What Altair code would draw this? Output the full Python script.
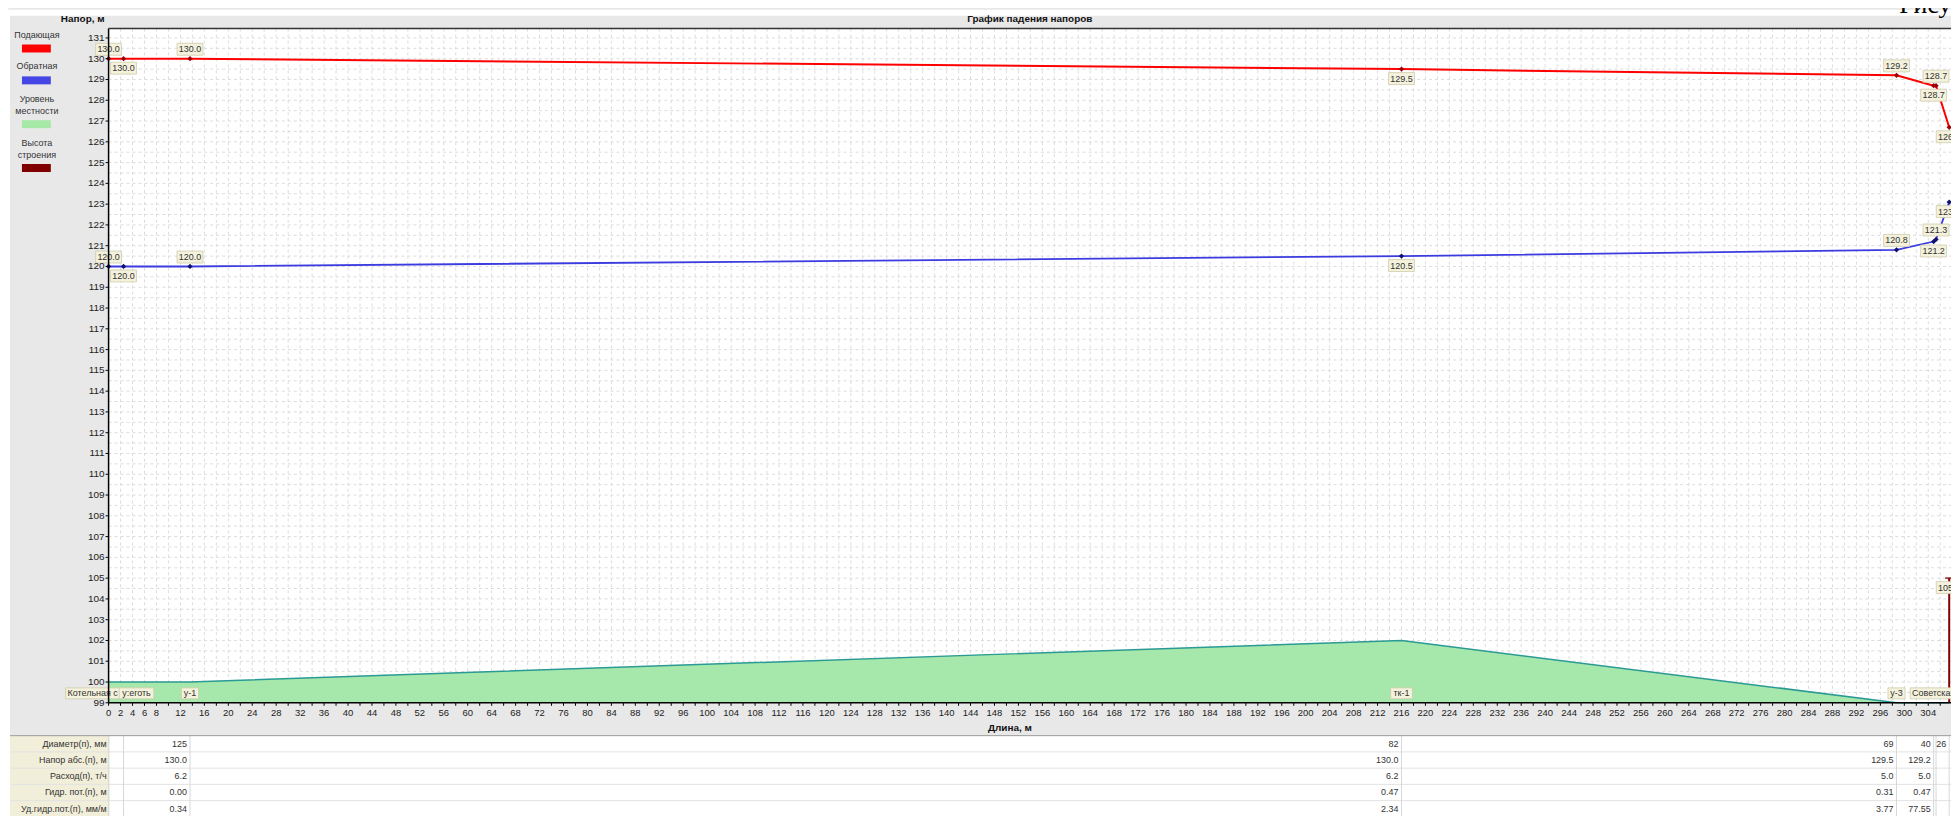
import altair as alt
import pandas as pd

# ---------------- data ----------------
node_x = [0.0, 2.5, 13.6, 216.0, 298.7, 304.9, 305.3, 307.5]
node_names = ["Котельная с", "у:еготь", "у-1", "тк-1", "у-3", "Советская", "", ""]
supply_head = [130.0, 130.0, 130.0, 129.5, 129.2, 128.7, 128.7, 126.7]
return_head = [120.0, 120.0, 120.0, 120.5, 120.8, 121.2, 121.3, 123.1]
terrain_level = [100.0, 100.0, 100.0, 102.0, 99.0, 99.0, 99.0, 99.0]
building_node = 7
building_height = 105.0

table_rows = ["Диаметр(п), мм", "Напор абс.(п), м", "Расход(п), т/ч",
              "Гидр. пот.(п), м", "Уд.гидр.пот.(п), мм/м"]
# one column per pipe segment (between consecutive nodes)
diameter = ["", "125", "82", "69", "40", "", "26"]
head_abs = ["", "130.0", "130.0", "129.5", "129.2", "", ""]
flow = ["", "6.2", "6.2", "5.0", "5.0", "", ""]
loss = ["", "0.00", "0.47", "0.31", "0.47", "", ""]
spec_loss = ["", "0.34", "2.34", "3.77", "77.55", "", ""]
table_values = [diameter, head_abs, flow, loss, spec_loss]

y_tick_labels = list(range(99, 132))
x_tick_labels = [0, 2, 4, 6, 8] + list(range(12, 305, 4))

legend_names = ["Подающая", "Обратная", "Уровень\nместности", "Высота\nстроения"]
legend_colors = ["#ff0000", "#4646e6", "#a6e8a6", "#800000"]

title_text = "График падения напоров"
y_title = "Напор, м"
x_title = "Длина, м"

# ---------------- layout / style ----------------
FONT = "Liberation Sans"
W, H = 1850, 677
X_DOM = [0, 307.8]
Y_DOM = [99, 131.45]
kx = W / (X_DOM[1] - X_DOM[0])
ky = H / (Y_DOM[1] - Y_DOM[0])
PAD_L, PAD_T, PAD_B = 101, 19, 112
BOTTOM = H + PAD_B

BG = "#e8e8e8"
BEIGE = "#f4f2dc"
BEIGE_BORDER = "#cfcbaa"
TEXT = "#333333"
GRID = "#dcdcdc"

xs = alt.Scale(domain=X_DOM, nice=False, zero=False)
ys = alt.Scale(domain=Y_DOM, nice=False, zero=False)

one = pd.DataFrame({"a": [0]})


def prect(x0, x1, y0, y1, color, **kw):
    return alt.Chart(one).mark_rect(color=color, **kw).encode(
        x=alt.value(x0), x2=alt.value(x1), y=alt.value(y0), y2=alt.value(y1))


def ptext(txt, x, y, size=9, bold=False, align="center", color=TEXT, font=FONT, **kw):
    return alt.Chart(one).mark_text(
        text=txt, font=font, fontSize=size, fontWeight="bold" if bold else "normal",
        align=align, baseline="middle", color=color, **kw).encode(
        x=alt.value(x), y=alt.value(y))


def xq(field):
    return alt.X(f"{field}:Q", scale=xs, axis=None)


def yq(field):
    return alt.Y(f"{field}:Q", scale=ys, axis=None, stack=None)


def ypx(field):
    return alt.Y(f"{field}:Q", scale=None, axis=None)


nodes = pd.DataFrame({"x": node_x, "supply": supply_head, "ret": return_head,
                      "terrain": terrain_level, "name": node_names})

# ---------------- hand-drawn axes & grid ----------------
x_grid = pd.DataFrame({"g": list(range(0, 308, 2))})
y_grid = pd.DataFrame({"g": [99 + 0.5 * i for i in range(0, 65)]})
grid_layers = [
    alt.Chart(x_grid).mark_rule(color=GRID, strokeWidth=1, strokeDash=[3, 3]).encode(
        x=xq("g"), y=alt.value(0), y2=alt.value(H)),
    alt.Chart(y_grid).mark_rule(color=GRID, strokeWidth=1, strokeDash=[3, 3]).encode(
        y=yq("g"), x=alt.value(0), x2=alt.value(W)),
]
xt = pd.DataFrame({"v": x_tick_labels, "t": [str(v) for v in x_tick_labels]})
yt = pd.DataFrame({"v": y_tick_labels, "t": [str(v) for v in y_tick_labels]})
axis_layers = [
    alt.Chart(x_grid).mark_rule(color="#000", strokeWidth=1).encode(
        x=xq("g"), y=alt.value(H), y2=alt.value(H + 3)),
    alt.Chart(yt).mark_rule(color="#000", strokeWidth=1).encode(
        y=yq("v"), x=alt.value(-3), x2=alt.value(0)),
    alt.Chart(xt).mark_text(font=FONT, fontSize=9.5, color="#222", baseline="middle").encode(
        x=xq("v"), y=alt.value(H + 10), text="t:N"),
    alt.Chart(yt).mark_text(font=FONT, fontSize=10, color="#222", baseline="middle",
                            align="right").encode(
        y=yq("v"), x=alt.value(-4), text="t:N"),
    alt.Chart(one).mark_rule(color="#000", strokeWidth=1.5).encode(
        x=alt.value(0), y=alt.value(0), y2=alt.value(H)),
    alt.Chart(one).mark_rule(color="#000", strokeWidth=1.5).encode(
        x=alt.value(0), x2=alt.value(W), y=alt.value(H)),
    alt.Chart(one).mark_rule(color="#333", strokeWidth=1.5).encode(
        x=alt.value(0), x2=alt.value(W), y=alt.value(0)),
]

# ---------------- plot layers ----------------
terrain_area = alt.Chart(nodes).mark_area(
    color="#a6e8ab", opacity=1, line={"color": "#2a9a94", "strokeWidth": 1.5}).encode(
    x=xq("x"), y=yq("terrain"), y2=alt.value(H))

supply_line = alt.Chart(nodes).mark_line(color="#ff0000", strokeWidth=2).encode(
    x=xq("x"), y=yq("supply"))
supply_pts = alt.Chart(nodes).mark_point(shape="diamond", filled=True, size=28,
                                         color="#a00000", opacity=1).encode(
    x=xq("x"), y=yq("supply"))
return_line = alt.Chart(nodes).mark_line(color="#3b3be0", strokeWidth=1.8).encode(
    x=xq("x"), y=yq("ret"))
return_pts = alt.Chart(nodes).mark_point(shape="diamond", filled=True, size=28,
                                         color="#101070", opacity=1).encode(
    x=xq("x"), y=yq("ret"))

bld = pd.DataFrame({"x": [node_x[building_node]],
                    "base": [terrain_level[building_node]],
                    "top": [building_height]})
building_rule = alt.Chart(bld).mark_rule(color="#800000", strokeWidth=2).encode(
    x=xq("x"), y=yq("base"), y2="top:Q")
building_cap = alt.Chart(bld).mark_tick(orient="horizontal", size=8, thickness=2,
                                        color="#800000").encode(x=xq("x"), y=yq("top"))

# value labels: alternating above / below the node
lab_rows = []
for series in (supply_head, return_head):
    for i, (x, v) in enumerate(zip(node_x, series)):
        side = 1 if i % 2 == 0 else -1
        lab_rows.append((x, v, side, f"{v:.1f}"))
lab_rows.append((node_x[building_node], building_height, -1, f"{building_height:.1f}"))
BW, BH, GAP = 26, 12, 3.5
labs = pd.DataFrame([{
    "x0": x - BW / 2 / kx, "x1": x + BW / 2 / kx,
    "y0": v + side * GAP / ky, "y1": v + side * (GAP + BH) / ky,
    "ty": v + side * (GAP + BH / 2) / ky, "x": x, "t": t} for x, v, side, t in lab_rows])
lab_boxes = alt.Chart(labs).mark_rect(fill=BEIGE, stroke=BEIGE_BORDER, strokeWidth=0.8).encode(
    x=xq("x0"), x2="x1:Q", y=yq("y0"), y2="y1:Q")
lab_text = alt.Chart(labs).mark_text(font=FONT, fontSize=9, color=TEXT, baseline="middle").encode(
    x=xq("x"), y=yq("ty"), text="t:N")


# node names along the bottom of the plot
def text_w(s, size=9):
    w = 0.0
    for ch in s:
        if ch.isupper():
            w += 0.68
        elif ch in " :.-,()":
            w += 0.3
        elif ch.isdigit():
            w += 0.556
        else:
            w += 0.5
    return w * size


name_nudge_px = {0: -16, 1: 13}
nm = []
for i, (x, s) in enumerate(zip(node_x, node_names)):
    if not s:
        continue
    wpx = text_w(s) + 5
    cx = x + name_nudge_px.get(i, 0) / kx
    nm.append({"x0": cx - wpx / 2 / kx, "x1": cx + wpx / 2 / kx, "cx": cx, "t": s})
names = pd.DataFrame(nm)
NAME_Y = H - 9.5
name_boxes = alt.Chart(names).mark_rect(fill=BEIGE, stroke=BEIGE_BORDER, strokeWidth=0.8).encode(
    x=xq("x0"), x2="x1:Q", y=alt.value(NAME_Y - 5.5), y2=alt.value(NAME_Y + 5.5))
name_text = alt.Chart(names).mark_text(font=FONT, fontSize=9, color=TEXT, baseline="middle").encode(
    x=xq("cx"), y=alt.value(NAME_Y), text="t:N")

# ---------------- legend (left panel) ----------------
legend_layers = []
leg_text_y = [6, 38, 71, 115]
leg_sw_y = [16, 48, 92, 136]
for name, col, ty, sy in zip(legend_names, legend_colors, leg_text_y, leg_sw_y):
    legend_layers.append(alt.Chart(one).mark_text(
        text=name.split("\n"), lineHeight=12, font=FONT, fontSize=9, color=TEXT,
        align="center", baseline="middle").encode(x=alt.value(-72), y=alt.value(ty)))
    legend_layers.append(prect(-87, -58, sy, sy + 8, col))

# ---------------- table ----------------
T_TOP = 710
ROW_H = 16.3
table_layers = [
    prect(-99, 1, T_TOP, BOTTOM + 2, "#f1eed9"),
    prect(1, W + 2, T_TOP, BOTTOM + 2, "#ffffff"),
]
row_lines = pd.DataFrame({"py": [T_TOP + ROW_H * (i + 1) for i in range(len(table_rows))]})
table_layers.append(alt.Chart(row_lines).mark_rule(color="#e2e2e2", strokeWidth=1).encode(
    x=alt.value(-99), x2=alt.value(W), y=ypx("py")))
table_layers.append(alt.Chart(nodes).mark_rule(color="#d8d8d8", strokeWidth=1).encode(
    x=xq("x"), y=alt.value(T_TOP), y2=alt.value(BOTTOM + 2)))
table_layers.append(alt.Chart(one).mark_rule(color="#9a9a9a", strokeWidth=1).encode(
    x=alt.value(-99), x2=alt.value(W), y=alt.value(T_TOP)))
row_lab = pd.DataFrame({"t": table_rows,
                        "py": [T_TOP + ROW_H * (i + 0.5) for i in range(len(table_rows))]})
table_layers.append(alt.Chart(row_lab).mark_text(
    font=FONT, fontSize=9, color=TEXT, align="right", baseline="middle").encode(
    x=alt.value(-2), y=ypx("py"), text="t:N"))
cells = []
for r, vals in enumerate(table_values):
    for s, v in enumerate(vals):
        if v:
            cells.append({"xe": node_x[s + 1], "py": T_TOP + ROW_H * (r + 0.5), "t": v})
cells = pd.DataFrame(cells)
table_layers.append(alt.Chart(cells).mark_text(
    font=FONT, fontSize=9, color=TEXT, align="right", baseline="middle", dx=-3).encode(
    x=xq("xe"), y=ypx("py"), text="t:N"))

# ---------------- frame / titles ----------------
frame = [
    prect(-PAD_L, W + 2, -PAD_T, -13, "#ffffff"),
    prect(-PAD_L, -99, -PAD_T, BOTTOM + 2, "#ffffff"),
]
titles = [
    ptext(y_title, -4, -10, size=10, bold=True, align="right", color="#111"),
    ptext(title_text, 925, -10, size=10, bold=True, color="#111"),
    ptext(x_title, 905, 702, size=10, bold=True, color="#111"),
    alt.Chart(one).mark_text(text="Рисунок", font="Liberation Serif", fontSize=26,
                             align="left", baseline="alphabetic", color="#000").encode(
        x=alt.value(1798), y=alt.value(-16)),
]

chart = alt.layer(
    *grid_layers, terrain_area, *frame,
    supply_line, return_line, building_rule, building_cap,
    supply_pts, return_pts,
    lab_boxes, lab_text, name_boxes, name_text,
    *axis_layers,
    *legend_layers, *table_layers, *titles,
).properties(
    width=W, height=H,
    autosize=alt.AutoSizeParams(type="none"),
    padding={"left": PAD_L, "top": PAD_T, "right": 0, "bottom": PAD_B},
    background=BG,
).configure_view(
    fill="#ffffff", stroke=None,
)

chart.save("out.html", embed_options={"renderer": "svg", "actions": False})
